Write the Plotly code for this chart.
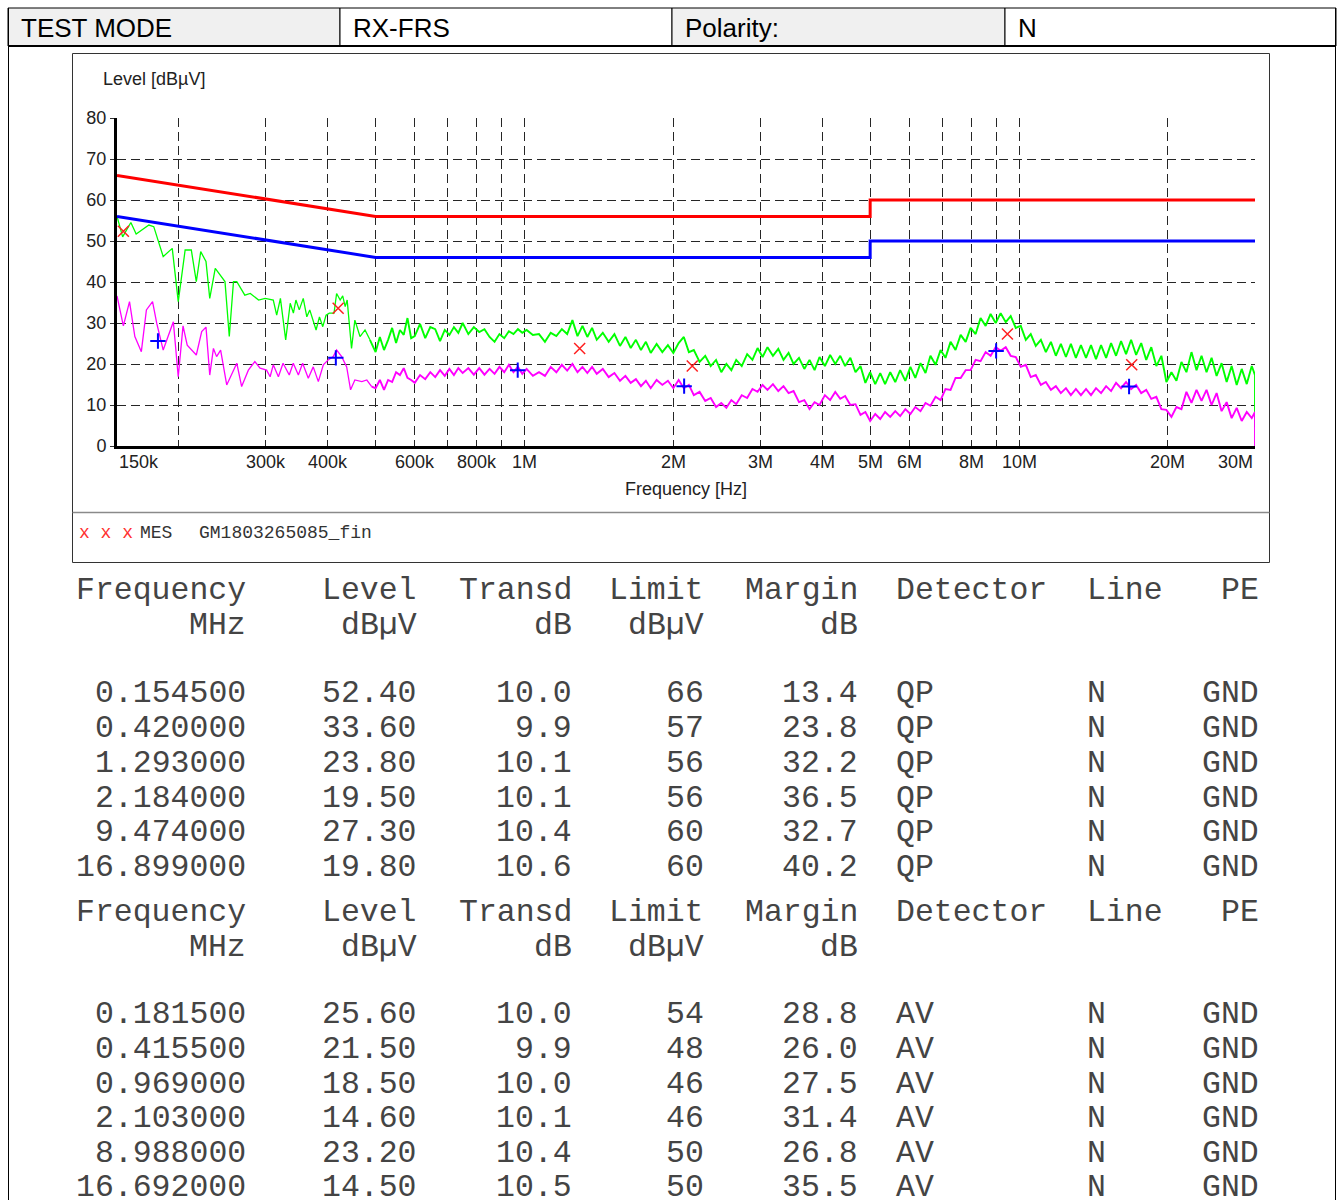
import math
import plotly.graph_objects as go

# ---------------- data ----------------
# Low-frequency part of the peak (QP) scan, MHz / dBuV
qp_low_freq = [0.150, 0.154, 0.160, 0.164, 0.174, 0.178, 0.186, 0.194, 0.1995, 0.206,
               0.212, 0.217, 0.2215, 0.227, 0.231, 0.237, 0.248, 0.253, 0.258, 0.262,
               0.272, 0.279, 0.290, 0.299, 0.3105, 0.3155, 0.321, 0.329, 0.336, 0.341,
               0.345, 0.3505, 0.357, 0.363, 0.368, 0.379, 0.385, 0.391, 0.397, 0.403,
               0.412, 0.417, 0.424, 0.429, 0.434, 0.438, 0.447, 0.454, 0.465, 0.476, 0.487]
qp_low = [56.0, 51.0, 54.5, 51.7, 53.9, 53.5, 46.2, 48.2, 35.2, 47.8,
          47.8, 40.1, 47.4, 45.0, 36.0, 43.3, 40.1, 26.7, 40.1, 40.1,
          36.8, 37.2, 35.6, 36.0, 35.6, 31.9, 36.0, 25.9, 34.8, 32.4,
          35.6, 33.2, 36.0, 31.5, 33.2, 28.3, 31.5, 29.1, 31.9, 32.4,
          32.4, 37.2, 35.6, 36.6, 34.0, 35.6, 23.8, 30.7, 26.7, 28.3, 25.9]

# Low-frequency part of the average (AV) scan
av_low_freq = [0.150, 0.1545, 0.159, 0.163, 0.168, 0.172, 0.177, 0.1805, 0.186, 0.195,
               0.1995, 0.204, 0.208, 0.217, 0.2225, 0.227, 0.231, 0.235, 0.2385, 0.243,
               0.250, 0.256, 0.262, 0.268, 0.2765, 0.285, 0.292, 0.301, 0.306, 0.3105,
               0.318, 0.325, 0.3345, 0.3408, 0.349, 0.356, 0.3655, 0.374, 0.383, 0.392,
               0.401, 0.4105, 0.417, 0.427, 0.437, 0.445, 0.454, 0.469, 0.480, 0.491]
av_low = [36.6, 29.3, 35.2, 26.7, 23.0, 33.2, 35.2, 29.9, 23.4, 30.3,
          16.9, 29.3, 24.6, 22.2, 27.9, 29.0, 17.3, 23.8, 21.8, 23.4,
          14.9, 17.7, 20.2, 14.5, 18.5, 20.6, 19.0, 18.5, 16.9, 19.8,
          16.9, 20.2, 17.3, 20.2, 17.3, 20.2, 16.5, 19.3, 15.7, 19.8,
          21.0, 21.8, 23.4, 21.8, 19.3, 13.7, 16.1, 15.7, 16.1, 14.5]

# Shared sweep points 0.5 - 30 MHz
sweep_freq = [0.50, 0.51, 0.52, 0.53, 0.54, 0.55, 0.56, 0.57, 0.58, 0.59,
              0.60, 0.615, 0.63, 0.645, 0.66, 0.675, 0.69, 0.705, 0.72, 0.735,
              0.75, 0.77, 0.79, 0.81, 0.83, 0.85, 0.87, 0.89, 0.91, 0.93,
              0.95, 0.97, 0.99, 1.01, 1.04, 1.07, 1.10, 1.13, 1.16, 1.19,
              1.22, 1.25, 1.28, 1.31, 1.34, 1.37, 1.40, 1.44, 1.48, 1.52,
              1.56, 1.60, 1.64, 1.68, 1.72, 1.76, 1.80, 1.85, 1.90, 1.95,
              2.00, 2.05, 2.10, 2.15, 2.20, 2.26, 2.32, 2.38, 2.44, 2.50,
              2.56, 2.62, 2.68, 2.75, 2.82, 2.89, 2.96, 3.03, 3.10, 3.18,
              3.26, 3.34, 3.42, 3.50, 3.59, 3.68, 3.77, 3.86, 3.95, 4.05,
              4.15, 4.25, 4.35, 4.45, 4.56, 4.67, 4.78, 4.89, 5.00, 5.12,
              5.24, 5.36, 5.49, 5.62, 5.75, 5.89, 6.03, 6.17, 6.32, 6.47,
              6.62, 6.78, 6.94, 7.10, 7.27, 7.44, 7.62, 7.80, 7.98, 8.17,
              8.36, 8.56, 8.76, 8.97, 9.18, 9.40, 9.62, 9.85, 10.08, 10.32,
              10.56, 10.81, 11.07, 11.33, 11.60, 11.87, 12.15, 12.44, 12.73, 13.03,
              13.34, 13.66, 13.98, 14.31, 14.65, 15.00, 15.35, 15.71, 16.08, 16.46,
              16.85, 17.25, 17.66, 18.08, 18.51, 18.95, 19.40, 19.86, 20.33, 20.81,
              21.30, 21.80, 22.32, 22.85, 23.39, 23.94, 24.51, 25.09, 25.68, 26.29,
              26.91, 27.55, 28.20, 28.87, 29.55, 30.00]
qp_sweep = [22.9, 26.6, 23.4, 25.9, 28.8, 25.1, 28.3, 27.1, 31.2, 26.3,
            26.8, 29.8, 26.3, 29.0, 28.5, 25.6, 28.3, 27.1, 29.0, 27.6,
            30.0, 27.3, 29.0, 27.8, 28.5, 26.6, 25.4, 27.3, 26.3, 28.0,
            27.3, 28.5, 27.6, 28.3, 27.1, 27.3, 25.4, 27.6, 26.8, 28.5,
            27.3, 30.7, 26.8, 29.3, 26.6, 28.8, 25.9, 27.6, 25.4, 27.3,
            24.4, 26.6, 23.9, 25.9, 23.4, 25.4, 22.7, 24.9, 22.9, 24.6,
            22.7, 25.1, 26.6, 22.9, 23.4, 20.5, 22.0, 19.5, 21.0, 18.0,
            20.0, 18.5, 21.0, 19.5, 22.4, 21.0, 23.9, 21.7, 24.1, 22.0,
            23.7, 21.0, 22.7, 20.0, 21.5, 18.8, 21.0, 18.5, 21.7, 19.5,
            22.2, 20.0, 22.0, 19.5, 21.5, 18.0, 19.5, 15.4, 18.0, 15.1,
            17.8, 15.1, 18.0, 15.6, 18.5, 15.9, 19.3, 16.6, 20.2, 17.8,
            22.0, 19.8, 23.4, 21.5, 25.4, 23.4, 27.1, 25.4, 28.8, 27.3,
            31.2, 29.3, 32.2, 30.0, 32.4, 30.2, 31.7, 28.8, 29.3, 25.9,
            27.3, 24.4, 25.9, 22.9, 25.4, 22.0, 24.9, 21.7, 24.9, 21.5,
            24.6, 21.5, 24.6, 21.2, 24.6, 21.5, 25.1, 22.0, 25.6, 22.4,
            25.9, 22.2, 25.1, 21.0, 24.1, 19.5, 22.0, 15.6, 18.0, 15.9,
            20.5, 18.0, 22.9, 18.5, 22.0, 18.0, 21.5, 17.1, 20.2, 15.6,
            19.5, 14.9, 18.8, 15.1, 19.5, 17.3]
av_sweep = [14.1, 16.1, 13.7, 16.1, 15.6, 18.0, 17.3, 19.0, 16.6, 16.1,
            15.4, 17.3, 16.3, 18.0, 16.8, 18.5, 17.1, 18.8, 17.3, 19.0,
            17.8, 19.0, 17.4, 19.0, 17.4, 18.8, 17.6, 19.3, 18.0, 19.8,
            18.0, 19.3, 17.6, 18.8, 17.1, 18.0, 17.1, 19.3, 18.0, 19.8,
            18.4, 20.0, 18.0, 19.3, 17.8, 19.3, 17.6, 18.8, 16.8, 17.8,
            15.9, 17.1, 15.4, 16.3, 14.6, 15.9, 14.1, 16.1, 14.9, 15.9,
            14.1, 16.1, 14.1, 14.9, 12.4, 13.2, 11.0, 11.7, 9.5, 10.5,
            9.3, 11.2, 10.2, 12.4, 11.7, 13.9, 13.2, 14.9, 13.7, 15.1,
            13.4, 14.6, 12.9, 13.4, 10.7, 11.2, 9.0, 10.7, 10.0, 12.4,
            11.2, 13.2, 11.5, 12.2, 10.0, 10.2, 7.6, 8.3, 6.1, 7.8,
            6.6, 8.3, 7.1, 8.5, 7.3, 9.0, 7.8, 9.5, 8.5, 10.5,
            9.8, 12.0, 11.2, 13.9, 13.7, 16.6, 16.6, 18.5, 18.5, 21.0,
            20.7, 22.9, 22.0, 24.1, 23.2, 24.1, 22.0, 21.7, 19.3, 19.8,
            16.8, 17.3, 14.9, 15.6, 13.7, 14.6, 12.9, 14.1, 12.4, 13.9,
            12.4, 13.9, 12.4, 14.1, 12.9, 14.6, 13.4, 15.4, 14.1, 15.6,
            13.9, 14.9, 12.9, 13.7, 11.5, 12.0, 9.0, 8.8, 7.1, 9.5,
            9.0, 13.2, 10.5, 13.7, 11.0, 13.7, 10.0, 12.9, 8.5, 10.7,
            6.8, 9.3, 6.1, 8.3, 6.8, 8.3]
end_freq = [30.0]
qp_end = [4.6]
av_end = [0.0]

# Limit lines (EN 55022 class B)
limit_freq = [0.15, 0.5, 5.0, 5.0, 30.0]
qp_limit_line = [66, 56, 56, 60, 60]
av_limit_line = [56, 46, 46, 50, 50]

# Final measurements
qp_meas_freq = [0.154500, 0.420000, 1.293000, 2.184000, 9.474000, 16.899000]
qp_meas_level = [52.40, 33.60, 23.80, 19.50, 27.30, 19.80]
qp_transd = [10.0, 9.9, 10.1, 10.1, 10.4, 10.6]
qp_limit = [66, 57, 56, 56, 60, 60]
qp_margin = [13.4, 23.8, 32.2, 36.5, 32.7, 40.2]

av_meas_freq = [0.181500, 0.415500, 0.969000, 2.103000, 8.988000, 16.692000]
av_meas_level = [25.60, 21.50, 18.50, 14.60, 23.20, 14.50]
av_transd = [10.0, 9.9, 10.0, 10.1, 10.4, 10.5]
av_limit = [54, 48, 46, 46, 50, 50]
av_margin = [28.8, 26.0, 27.5, 31.4, 26.8, 35.5]

grid_freq = [0.2, 0.3, 0.4, 0.5, 0.6, 0.7, 0.8, 0.9, 1, 2, 3, 4, 5, 6, 7, 8, 9, 10, 20, 30]
xtick_freq = [0.15, 0.3, 0.4, 0.6, 0.8, 1, 2, 3, 4, 5, 6, 8, 10, 20, 30]
xtick_text = ["150k", "300k", "400k", "600k", "800k", "1M", "2M", "3M", "4M", "5M",
              "6M", "8M", "10M", "20M", "30M"]
header_text = ["TEST MODE", "RX-FRS", "Polarity:", "N"]

assert len(qp_low_freq) == len(qp_low)
assert len(av_low_freq) == len(av_low)
assert len(sweep_freq) == len(qp_sweep) == len(av_sweep)

# ---------------- layout helpers ----------------
W, H = 1341, 1200
def PX(x):
    return x / W
def PY(y):
    return 1 - y / H

SANS = "Liberation Sans, Arial, sans-serif"
MONO = "Courier New, Liberation Mono, monospace"

fig = go.Figure()

# low-frequency parts (thin), then the dense sweep parts (slightly heavier, like the noise band)
fig.add_trace(go.Scatter(x=qp_low_freq, y=qp_low, mode="lines",
                         line=dict(color="#00ff00", width=1.3), showlegend=False))
fig.add_trace(go.Scatter(x=qp_low_freq[-1:] + sweep_freq + end_freq,
                         y=qp_low[-1:] + qp_sweep + qp_end, mode="lines",
                         line=dict(color="#00ff00", width=1.9), showlegend=False))
fig.add_trace(go.Scatter(x=av_low_freq, y=av_low, mode="lines",
                         line=dict(color="#ff00ff", width=1.3), showlegend=False))
fig.add_trace(go.Scatter(x=av_low_freq[-1:] + sweep_freq + end_freq,
                         y=av_low[-1:] + av_sweep + av_end, mode="lines",
                         line=dict(color="#ff00ff", width=1.9), showlegend=False))
fig.add_trace(go.Scatter(x=limit_freq, y=qp_limit_line, mode="lines",
                         line=dict(color="#ff0000", width=3), showlegend=False))
fig.add_trace(go.Scatter(x=limit_freq, y=av_limit_line, mode="lines",
                         line=dict(color="#0000ff", width=3), showlegend=False))
fig.add_trace(go.Scatter(x=qp_meas_freq, y=qp_meas_level, mode="markers",
                         marker=dict(symbol="x-thin", size=11, line=dict(color="#ff2020", width=1.5)),
                         showlegend=False))
fig.add_trace(go.Scatter(x=av_meas_freq, y=av_meas_level, mode="markers",
                         marker=dict(symbol="cross-thin", size=11, line=dict(color="#0000ff", width=2)),
                         showlegend=False))

grid_style = dict(showgrid=True, gridcolor="#262626", gridwidth=1, griddash="9px,5px")

fig.update_layout(
    width=W, height=H, autosize=False,
    margin=dict(l=0, r=0, t=0, b=0, pad=0, autoexpand=False),
    paper_bgcolor="white", plot_bgcolor="white",
    xaxis=dict(type="log", range=[math.log10(0.15), math.log10(30)], automargin=False,
               domain=[PX(117), PX(1255)], tickvals=grid_freq, showticklabels=False,
               ticks="", showline=True, linecolor="black", linewidth=3, zeroline=False,
               **grid_style),
    yaxis=dict(range=[0, 80], domain=[PY(446), PY(118)], tickvals=list(range(0, 81, 10)),
               automargin=False,
               ticks="outside", ticklen=4, tickcolor="#333", showline=True, linecolor="black",
               linewidth=3, zeroline=False, tickfont=dict(family=SANS, size=18, color="#222"),
               **grid_style),
)

shapes = []
ann = []

# header row
cell_x = [8, 340, 672, 1005, 1336]
cell_fill = ["#f0f0f0", "white", "#f0f0f0", "white"]
for i, t in enumerate(header_text):
    shapes.append(dict(type="rect", xref="paper", yref="paper",
                       x0=PX(cell_x[i]), x1=PX(cell_x[i + 1]), y0=PY(46), y1=PY(8),
                       fillcolor=cell_fill[i], line=dict(color="black", width=1), layer="below"))
    ann.append(dict(text=t, xref="paper", yref="paper", x=PX(cell_x[i] + 11), y=PY(28),
                    xanchor="left", yanchor="middle", showarrow=False,
                    font=dict(family=SANS, size=26, color="black")))
shapes.append(dict(type="line", xref="paper", yref="paper", x0=PX(8), x1=PX(1336),
                   y0=PY(46), y1=PY(46), line=dict(color="black", width=2)))
# page frame
shapes.append(dict(type="line", xref="paper", yref="paper", x0=PX(8.5), x1=PX(8.5),
                   y0=PY(8), y1=PY(1200), line=dict(color="black", width=1)))
shapes.append(dict(type="line", xref="paper", yref="paper", x0=PX(1335.5), x1=PX(1335.5),
                   y0=PY(8), y1=PY(1200), line=dict(color="black", width=1)))
# chart box
shapes.append(dict(type="rect", xref="paper", yref="paper", x0=PX(72.5), x1=PX(1269.5),
                   y0=PY(562.5), y1=PY(53.5), line=dict(color="#333", width=1), layer="below"))
shapes.append(dict(type="line", xref="paper", yref="paper", x0=PX(72.5), x1=PX(1269.5),
                   y0=PY(512.5), y1=PY(512.5), line=dict(color="#8a8a8a", width=1.5)))

# axis titles
ann.append(dict(text="Level [dBµV]", xref="paper", yref="paper", x=PX(101), y=PY(79),
                xanchor="left", yanchor="middle", showarrow=False,
                font=dict(family=SANS, size=18, color="#222")))
ann.append(dict(text="Frequency [Hz]", xref="paper", yref="paper", x=PX(686), y=PY(489),
                xanchor="center", yanchor="middle", showarrow=False,
                font=dict(family=SANS, size=18, color="#222")))
# x tick labels (log axis -> annotation x in log10 units)
for f, t in zip(xtick_freq, xtick_text):
    anchor = "center"
    if t == xtick_text[0]:
        anchor = "left"
    elif t == xtick_text[-1]:
        anchor = "right"
    ann.append(dict(text=t, xref="x", yref="paper", x=math.log10(f), y=PY(462),
                    xanchor=anchor, yanchor="middle", showarrow=False,
                    font=dict(family=SANS, size=18, color="#222")))

# legend row
ann.append(dict(text="x x x", xref="paper", yref="paper", x=PX(77), y=PY(533),
                xanchor="left", yanchor="middle", showarrow=False,
                font=dict(family=MONO, size=18, color="#ff3030")))
ann.append(dict(text="MES", xref="paper", yref="paper", x=PX(138), y=PY(533),
                xanchor="left", yanchor="middle", showarrow=False,
                font=dict(family=MONO, size=18, color="#333")))
ann.append(dict(text="GM1803265085_fin", xref="paper", yref="paper", x=PX(197), y=PY(533),
                xanchor="left", yanchor="middle", showarrow=False,
                font=dict(family=MONO, size=18, color="#333")))

# result tables
TF = dict(family=MONO, size=31.5, color="#444444")
col_right = [248, 419, 574, 706, 860]
det_left = 894
line_left = 1085
pe_right = 1261

def txt(t, x, y, anchor):
    ann.append(dict(text=t, xref="paper", yref="paper", x=PX(x), y=PY(y),
                    xanchor=anchor, yanchor="middle", showarrow=False, font=TF))

def table(y_head, y_rows, freqs, levels, transd, limits, margins, det):
    heads1 = ["Frequency", "Level", "Transd", "Limit", "Margin"]
    heads2 = ["MHz", "dBµV", "dB", "dBµV", "dB"]
    for h, x in zip(heads1, col_right):
        txt(h, x, y_head, "right")
    for h, x in zip(heads2, col_right):
        txt(h, x, y_head + 35, "right")
    txt("Detector", det_left, y_head, "left")
    txt("Line", line_left, y_head, "left")
    txt("PE", pe_right, y_head, "right")
    for i, yy in enumerate(y_rows):
        vals = ["%.6f" % freqs[i], "%.2f" % levels[i], "%.1f" % transd[i],
                "%d" % limits[i], "%.1f" % margins[i]]
        for v, x in zip(vals, col_right):
            txt(v, x, yy, "right")
        txt(det, det_left, yy, "left")
        txt("N", line_left, yy, "left")
        txt("GND", pe_right, yy, "right")

table(590, [693, 728, 763, 798, 832, 867], qp_meas_freq, qp_meas_level, qp_transd,
      qp_limit, qp_margin, "QP")
table(912, [1014, 1049, 1084, 1118, 1153, 1187], av_meas_freq, av_meas_level, av_transd,
      av_limit, av_margin, "AV")

fig.update_layout(shapes=shapes, annotations=ann)

fig.write_html("out.html", config={"displayModeBar": False},
               post_script="document.body.style.margin='0';document.body.style.overflow='hidden';")
